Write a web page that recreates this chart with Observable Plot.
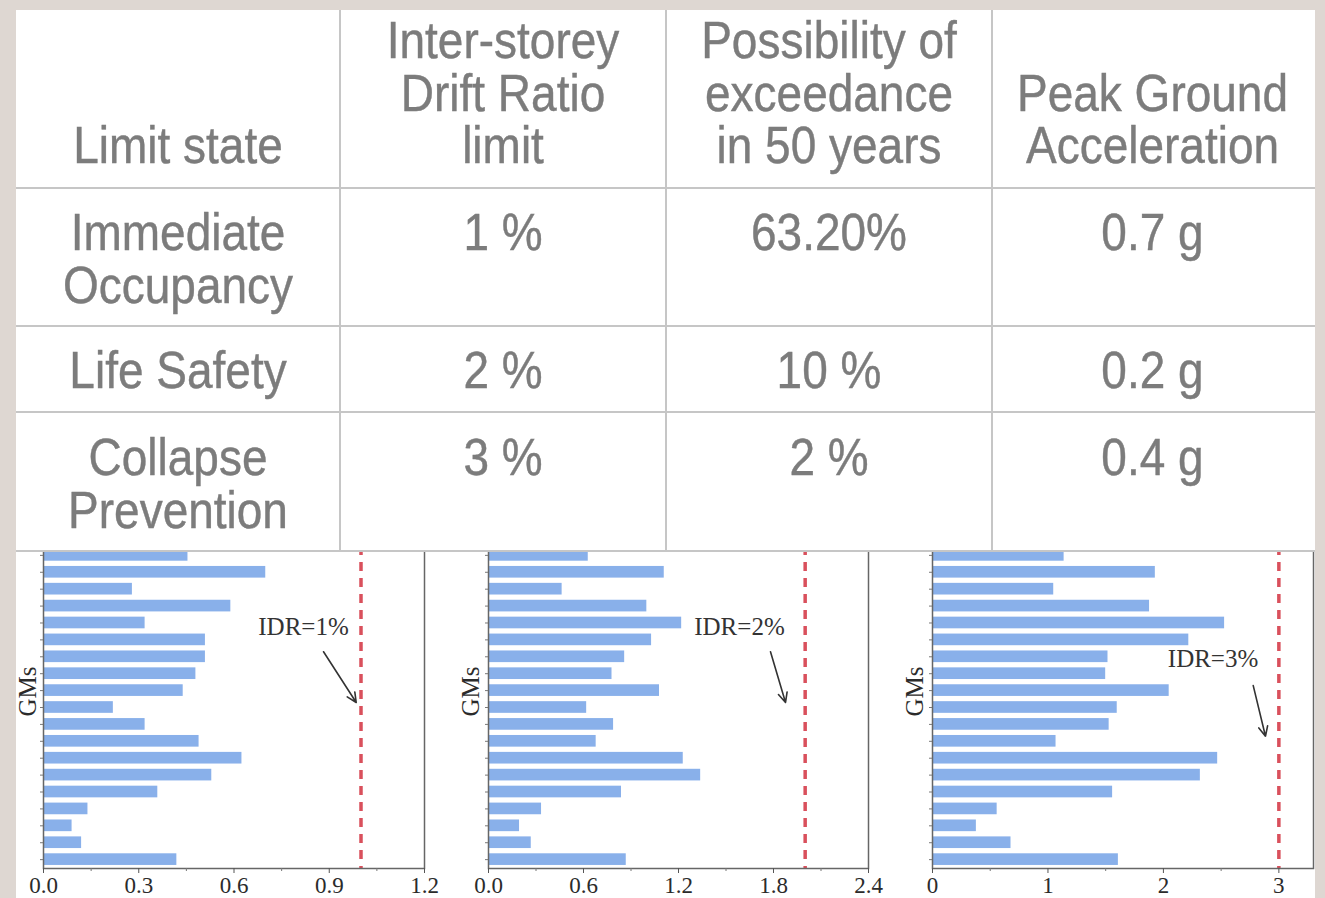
<!DOCTYPE html>
<html>
<head>
<meta charset="utf-8">
<script src="https://cdn.jsdelivr.net/npm/d3@7"></script>
<script src="https://cdn.jsdelivr.net/npm/@observablehq/plot@0.6"></script>
<style>
  html, body { margin: 0; padding: 0; width: 1325px; height: 898px; overflow: hidden; background: #ded7d2; }
  #panel { position: absolute; left: 16px; top: 10px; width: 1299px; height: 900px; background: #ffffff; }
  .chart { position: absolute; top: 540px; z-index: 1; }
  #table { position: absolute; left: 16px; top: 10px; z-index: 2; }
</style>
</head>
<body>
<div id="panel"></div>
<div id="c1" class="chart" style="left:16px"></div>
<div id="c2" class="chart" style="left:440px"></div>
<div id="c3" class="chart" style="left:880px"></div>
<div id="table"></div>
<script>
// ---------- table content ----------
const headers = [["Limit state"], ["Inter-storey", "Drift Ratio", "limit"], ["Possibility of", "exceedance", "in 50 years"], ["Peak Ground", "Acceleration"]];
const limitStates = [["Immediate", "Occupancy"], ["Life Safety"], ["Collapse", "Prevention"]];
const idrLimits = ["1 %", "2 %", "3 %"];
const exceedance = ["63.20%", "10 %", "2 %"];
const pgaValues = ["0.7 g", "0.2 g", "0.4 g"];

// ---------- bar chart data (ground motions, top to bottom) ----------
const gms = ["GM1", "GM2", "GM3", "GM4", "GM5", "GM6", "GM7", "GM8", "GM9", "GM10", "GM11", "GM12", "GM13", "GM14", "GM15", "GM16", "GM17", "GM18", "GM19"];
const idrIO = [0.455, 0.70, 0.28, 0.59, 0.32, 0.51, 0.51, 0.48, 0.44, 0.22, 0.32, 0.49, 0.625, 0.53, 0.36, 0.14, 0.09, 0.12, 0.42];
const idrLS = [0.63, 1.11, 0.465, 1.00, 1.22, 1.03, 0.86, 0.78, 1.08, 0.62, 0.79, 0.68, 1.23, 1.34, 0.84, 0.335, 0.196, 0.27, 0.87];
const idrCP = [1.14, 1.93, 1.05, 1.88, 2.53, 2.22, 1.52, 1.50, 2.05, 1.60, 1.53, 1.07, 2.47, 2.32, 1.56, 0.56, 0.38, 0.68, 1.61];
const idrThresholds = [1, 2, 3];
const annotationLabels = ["IDR=1%", "IDR=2%", "IDR=3%"];
const ticks1 = [0, 0.3, 0.6, 0.9, 1.2];
const ticks2 = [0, 0.6, 1.2, 1.8, 2.4];
const ticks3 = [0, 1, 2, 3];

// ---------- draw table ----------
(function drawTable() {
  const W = 1299, H = 543;
  const ox = 16, oy = 10; // page offset
  const colX = [340, 666, 992];
  const rowY = [188, 326, 412, 551];
  const centers = [178, 503, 829, 1152.5];
  const svg = d3.select("#table").append("svg").attr("width", W).attr("height", H);
  svg.append("rect").attr("width", W).attr("height", H - 1).attr("fill", "#fff");
  const g = svg.append("g").attr("transform", `translate(${-ox},${-oy})`);
  const lineColor = "#c6c6c6";
  rowY.forEach(y => g.append("line").attr("x1", 16).attr("x2", 1315).attr("y1", y).attr("y2", y).attr("stroke", lineColor).attr("stroke-width", 2));
  colX.forEach(x => g.append("line").attr("x1", x).attr("x2", x).attr("y1", 10).attr("y2", 551).attr("stroke", lineColor).attr("stroke-width", 2));
  const put = (txt, cx, base) => g.append("text")
    .attr("transform", `translate(${cx},${base}) scale(1,1.12)`)
    .attr("text-anchor", "middle")
    .attr("font-family", "'Liberation Sans', Arial, Helvetica, sans-serif")
    .attr("font-size", 46)
    .attr("fill", "#7c7c7c")
    .attr("stroke", "#7c7c7c")
    .attr("stroke-width", 0.4)
    .text(txt);
  const lh = 52.5;
  headers.forEach((lines, c) => {
    lines.forEach((t, k) => put(t, centers[c], 163 - (lines.length - 1 - k) * lh));
  });
  const firstBase = [250, 388, 475];
  limitStates.forEach((lines, r) => {
    lines.forEach((t, k) => put(t, centers[0], firstBase[r] + k * lh));
    put(idrLimits[r], centers[1], firstBase[r]);
    put(exceedance[r], centers[2], firstBase[r]);
    put(pgaValues[r], centers[3], firstBase[r]);
  });
})();

// ---------- bar charts ----------
const BAR = "#89b0ea";
const RED = "#d9505c";
const SERIF = "'Liberation Serif', 'Times New Roman', serif";

function idrChart(o) {
  const data = gms.map((gm, i) => ({gm, v: o.values[i]}));
  return Plot.plot({
    width: o.width, height: 380,
    marginTop: 6, marginBottom: 52, marginLeft: o.ml, marginRight: o.mr,
    style: {background: "transparent", fontFamily: SERIF, color: "#2b2b2b", overflow: "visible"},
    x: {domain: o.domain},
    y: {domain: gms, paddingInner: 0.31, paddingOuter: 0.18, round: false},
    marks: [
      Plot.barX(data, {x: "v", y: "gm", fill: BAR}),
      Plot.ruleX([o.limit], {stroke: RED, strokeWidth: 3.5, strokeDasharray: "9,7"}),
      Plot.frame({stroke: "#666", strokeWidth: 1.5}),
      Plot.axisX({ticks: o.ticks, tickFormat: o.fmt, tickSize: 5, tickPadding: 3, fontSize: 23, label: null, stroke: "#555"}),
      Plot.axisX({ticks: o.minor, tickFormat: () => "", tickSize: 3, label: null, stroke: "#777"}),
      Plot.axisY({tickSize: 3, tickFormat: () => "", label: null, stroke: "#777"}),
      Plot.text(["GMs"], {text: d => d, frameAnchor: "left", textAnchor: "middle", lineAnchor: "middle", rotate: -90, dx: o.gmDx, dy: -16, fontSize: 25, fill: "#2b2b2b"}),
      Plot.text([o.ann], {x: "x", y: "y", text: "t", lineAnchor: "bottom", dy: o.ann.dy, fontSize: 25, fill: "#333"}),
      Plot.arrow([o.arr], {x1: "x1", y1: "y1", x2: "x2", y2: "y2", dy: -5, stroke: "#333", strokeWidth: 1.6, headLength: 10, headAngle: 50})
    ]
  });
}

document.getElementById("c1").append(idrChart({
  values: idrIO, limit: idrThresholds[0], domain: [0, 1.2], ticks: ticks1, minor: [0.15, 0.45, 0.75, 1.05],
  fmt: d3.format(".1f"), width: 424, ml: 27, mr: 16, gmDx: -16,
  ann: {x: 0.819, y: "GM6", t: annotationLabels[0], dy: -4.5},
  arr: {x1: 0.882, y1: "GM7", x2: 0.985, y2: "GM10"}
}));
document.getElementById("c2").append(idrChart({
  values: idrLS, limit: idrThresholds[1], domain: [0, 2.4], ticks: ticks2, minor: [0.3, 0.9, 1.5, 2.1],
  fmt: d3.format(".1f"), width: 440, ml: 48, mr: 12, gmDx: -18,
  ann: {x: 1.585, y: "GM6", t: annotationLabels[1], dy: -5},
  arr: {x1: 1.781, y1: "GM7", x2: 1.876, y2: "GM10"}
}));
document.getElementById("c3").append(idrChart({
  values: idrCP, limit: idrThresholds[2], domain: [0, 3.3], ticks: ticks3, minor: [0.5, 1.5, 2.5],
  fmt: d3.format("d"), width: 435, ml: 52, mr: 2, gmDx: -18,
  ann: {x: 2.43, y: "GM8", t: annotationLabels[2], dy: -7},
  arr: {x1: 2.778, y1: "GM9", x2: 2.884, y2: "GM12"}
}));
</script>
</body>
</html>
